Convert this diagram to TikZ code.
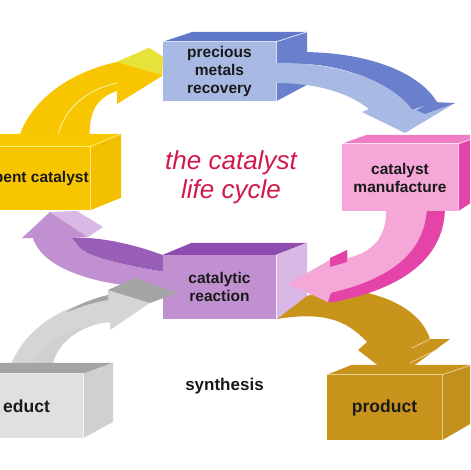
\documentclass[tikz,border=0pt]{standalone}
\usepackage{fontspec}
\setmainfont{Liberation Sans}

\definecolor{metalfront}{HTML}{A8B9E4}
\definecolor{metaltop}{HTML}{6078C8}
\definecolor{metalside}{HTML}{6A80CC}
\definecolor{manufront}{HTML}{F5A8D8}
\definecolor{manutop}{HTML}{F07CC4}
\definecolor{manuside}{HTML}{E444A8}
\definecolor{reactfront}{HTML}{C090D0}
\definecolor{reacttop}{HTML}{8E4CB0}
\definecolor{reactside}{HTML}{DAB8E6}
\definecolor{spentfront}{HTML}{F8C600}
\definecolor{spenttop}{HTML}{F8C800}
\definecolor{spentside}{HTML}{F2C000}
\definecolor{spenthead}{HTML}{E6E23A}
\definecolor{eductfront}{HTML}{E0E0E0}
\definecolor{educttop}{HTML}{A4A4A4}
\definecolor{eductside}{HTML}{D0D0D0}
\definecolor{productfront}{HTML}{C9941C}
\definecolor{titlered}{HTML}{D2194B}

\def\boxfont{\fontsize{15.5}{18}\selectfont\bfseries}
\def\bigfont{\fontsize{17.5}{20}\selectfont\bfseries}

\begin{document}
\begin{tikzpicture}[x=1pt,y=-1pt]
        \tikzstyle{front} = [rectangle, inner sep=0pt, align=center, font=\boxfont, text=black!90]
        \tikzstyle{edge}  = [draw=white, line width=0.8pt, opacity=0.75]
                \useasboundingbox (0,0) rectangle (470,470);
                \clip (0,0) rectangle (470,470);

                \fill[spentfront] (18,140) .. controls (30,100) and (70,72) .. (117,62) -- (149,48) -- (163,57) -- (162,76)
                        -- (117,104) -- (117,91) .. controls (95,98) and (88,115) .. (90,140) -- cycle;
                \fill[spenthead] (117,62) -- (149,48) -- (163,57) -- (161,75) -- cycle;
                \draw[spenthead!40!white, line width=0.8pt] (57,140) .. controls (62,110) and (85,90) .. (117,83);

                \node [front, fill=spentfront, minimum width=120pt, minimum height=63pt](spent) at (30,178.5) {\hspace*{14pt}spent catalyst};
                \fill[spenttop] (spent.north west) -- ++(31,-13) -- ++(120,0) -- (spent.north east) -- cycle;
                \fill[spentside] (spent.north east) -- ++(31,-13) -- ++(0,64) -- (spent.south east) -- cycle;
                \draw[edge, draw=yellow!40!white] (spent.north west) -- (spent.north east) -- (spent.south east);
                \draw[edge, draw=yellow!40!white] (spent.north east) -- ++(31,-13);

                \fill[reactfront] (165,272) .. controls (130,266) and (90,258) .. (80,248) -- (72,238) -- (88,237)
                        -- (50,212) -- (22,238) -- (33,238) .. controls (42,268) and (95,287) .. (165,288) -- cycle;
                \fill[reacttop!90!white] (72,238) .. controls (100,236) and (140,246) .. (165,256) -- (165,272)
                        .. controls (130,266) and (90,258) .. (80,248) -- cycle;
                \fill[reactside] (50,212) -- (77,211) -- (103,227) -- (88,237) -- cycle;

                \node [front, fill=reactfront, minimum width=113pt, minimum height=64pt](reaction) at (219.5,287) {catalytic\\reaction};
                \fill[reacttop] (reaction.north west) -- ++(29,-12) -- ++(115,0) -- (reaction.north east) -- cycle;
                \fill[reactside] (reaction.north east) -- ++(31,-12) -- ++(0,57) -- (reaction.south east) -- cycle;
                \draw[edge] (reaction.north east) -- (reaction.south east);

                \fill[eductfront!95!black] (8,372) .. controls (22,330) and (60,305) .. (108,298) -- (108,290) -- (150,303)
                        -- (110,330) -- (110,322) .. controls (80,324) and (52,345) .. (52,372) -- cycle;
                \fill[eductside] (30,372) .. controls (38,345) and (70,326) .. (110,322) .. controls (80,324) and (52,345) .. (52,372) -- cycle;
                \fill[educttop] (65,313) .. controls (80,303) and (95,298) .. (108,295) -- (108,300) .. controls (95,302) and (82,306) .. (65,313) -- cycle;
                \fill[educttop] (108,290) -- (135,278) -- (177,293) -- (150,303) -- cycle;

                \node [front, font=\bigfont, fill=eductfront, minimum width=113pt, minimum height=64pt](educt) at (26.5,406) {educt};
                \fill[educttop] (educt.north west) -- ++(30,-11) -- ++(113,0) -- (educt.north east) -- cycle;
                \fill[eductside] (educt.north east) -- ++(30,-11) -- ++(0,59) -- (educt.south east) -- cycle;
                \draw[edge] (educt.north west) -- (educt.north east) -- (educt.south east);

                \fill[productfront] (277,319) -- (307,296) -- (330,288) .. controls (380,290) and (420,308) .. (430,339)
                        -- (450,339) -- (412,367) -- (380,367) -- (358,350) -- (367,342)
                        .. controls (345,318) and (320,312) .. (277,319) -- cycle;
                \draw[edge, draw=productfront!30!white] (412,348) -- (430,339);
                \draw[edge, draw=productfront!30!white] (410,363) -- (440,348);

                \node [front, font=\bigfont, fill=productfront, minimum width=115pt, minimum height=65pt](product) at (384.5,407.5) {product};
                \fill[productfront] (product.north west) -- ++(25,-10) -- ++(120,0) -- (product.north east) -- cycle;
                \fill[productfront!97!black] (product.north east) -- ++(30,-10) -- ++(0,58) -- (product.south east) -- cycle;
                \draw[edge, draw=productfront!30!white] (product.north west) -- (product.north east) -- (product.south east);
                \draw[edge, draw=productfront!30!white] (product.north east) -- ++(30,-10);

                \node [front, fill=metalfront, minimum width=113pt, minimum height=59pt](metals) at (219.5,71.5) {precious\\metals\\recovery};
                \fill[metaltop] (metals.north west) -- ++(30,-10) -- ++(114,0) -- (metals.north east) -- cycle;
                \fill[metalside] (metals.north east) -- ++(31,-10) -- ++(0,53) -- (metals.south east) -- cycle;
                \draw[edge] (metals.north west) -- (metals.north east) -- (metals.south east);
                \draw[edge] (metals.north east) -- ++(31,-10);

                \fill[metalside] (300,52) .. controls (372,52) and (420,74) .. (437,102) -- (412,110)
                        .. controls (392,82) and (340,64) .. (300,64) -- cycle;
                \fill[metalfront] (276,63) .. controls (340,62) and (392,82) .. (412,110) -- (455,103) -- (405,133)
                        -- (362,112) -- (369,109) .. controls (345,90) and (310,83) .. (276,83) -- cycle;
                \fill[metalside] (416,110) -- (433,102) -- (455,103) -- (425,114) -- cycle;

                \fill[manufront] (386,205) .. controls (388,238) and (372,252) .. (348,258) -- (347,250) -- (288,284)
                        -- (328,302) -- (331,293) .. controls (375,282) and (426,262) .. (427,205) -- cycle;
                \fill[manuside] (427,205) .. controls (426,262) and (375,282) .. (331,293) -- (328,302) -- (334,302)
                        .. controls (385,292) and (446,268) .. (445,205) -- cycle;
                \fill[manuside] (330,258) -- (347,250) -- (347,262) -- (330,267) -- cycle;

                \node [front, fill=manufront, minimum width=116pt, minimum height=67pt](manufacture) at (400,177.5) {catalyst\\manufacture};
                \fill[manutop] (manufacture.north west) -- ++(25,-9) -- ++(116,0) -- (manufacture.north east) -- cycle;
                \fill[manuside] (manufacture.north east) -- ++(25,-9) -- ++(0,60) -- (manufacture.south east) -- cycle;
                \draw[edge] (manufacture.north west) -- (manufacture.north east) -- (manufacture.south east);
                \draw[edge] (manufacture.north east) -- ++(25,-9);

                \node [align=center, text=titlered, font=\fontsize{26}{29}\selectfont\itshape](title) at (231,177) {the catalyst\\life cycle};
                \node [font=\fontsize{17}{20}\selectfont\bfseries, text=black!90](synthesis) at (224.5,386) {synthesis};
\end{tikzpicture}
\end{document}
